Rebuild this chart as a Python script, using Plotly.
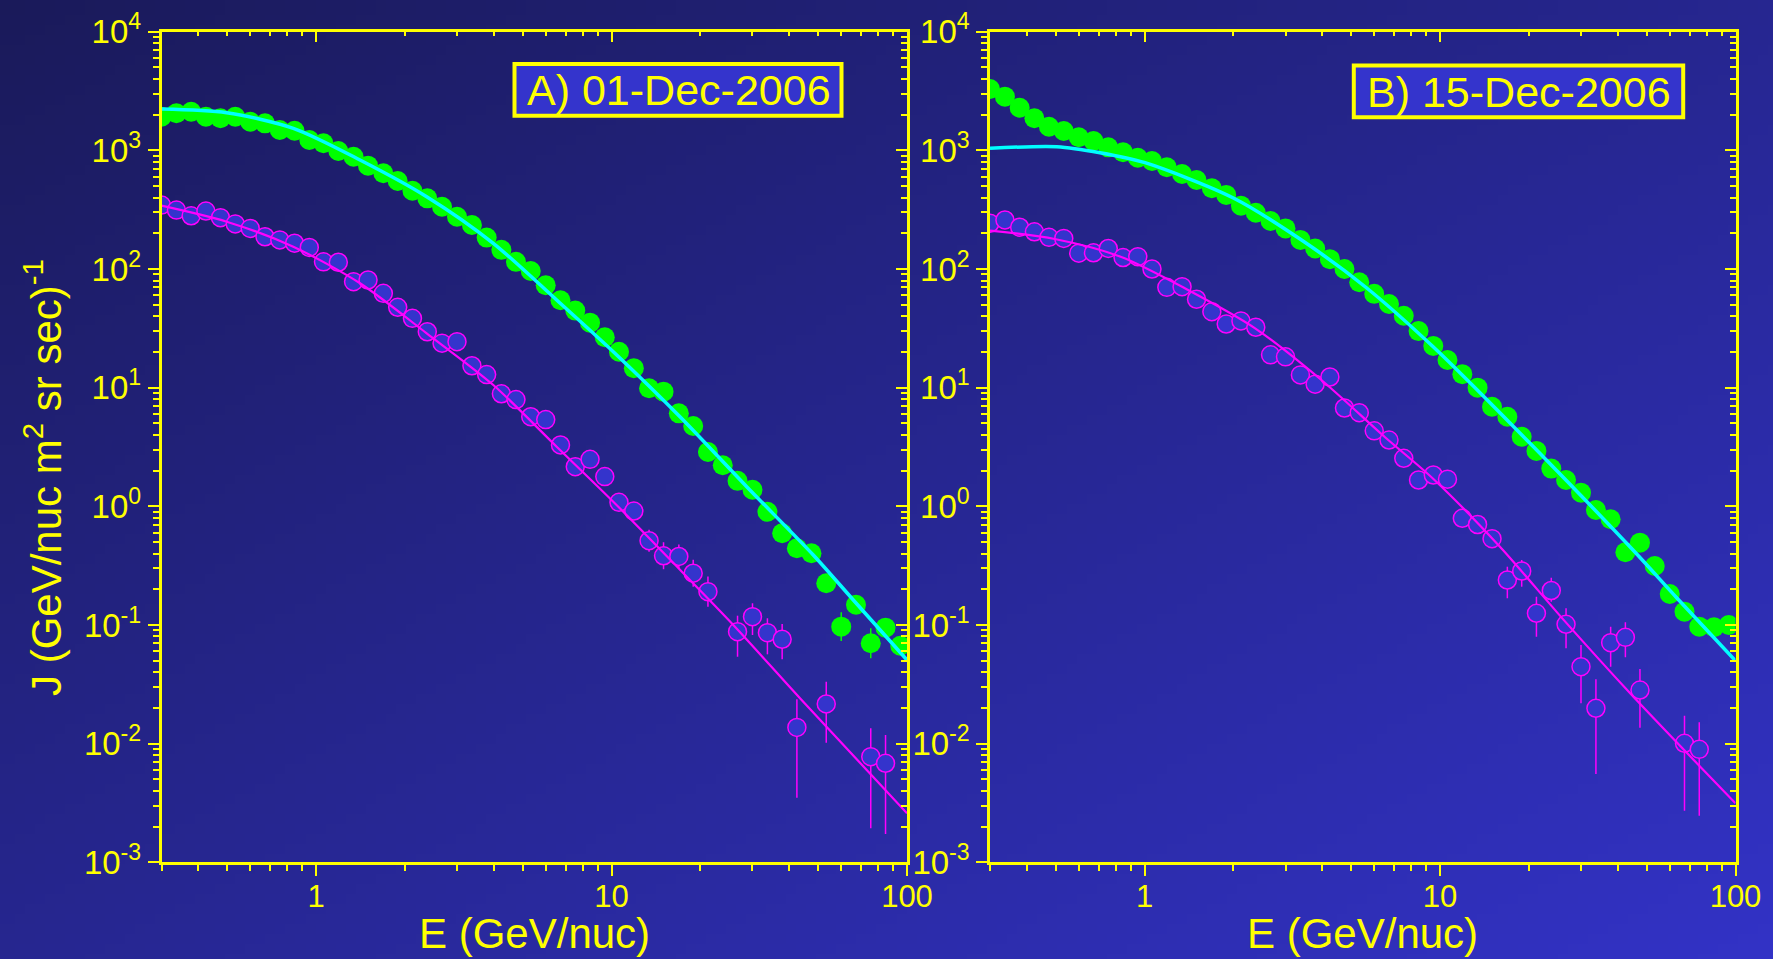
import math, zlib, struct, base64
import plotly.graph_objects as go

# ---------------- data ----------------
E = [0.300, 0.337, 0.378, 0.424, 0.475, 0.533, 0.599, 0.672, 0.754, 0.846,
     0.949, 1.06, 1.19, 1.34, 1.50, 1.69, 1.89, 2.12, 2.38, 2.67,
     3.00, 3.37, 3.78, 4.24, 4.75, 5.33, 5.99, 6.72, 7.54, 8.46,
     9.49, 10.6, 11.9, 13.4, 15.0, 16.9, 18.9, 21.2, 23.8, 26.7,
     30.0, 33.7, 37.8, 42.4, 47.5, 53.3, 59.9, 67.2, 75.4, 84.6, 94.9]

green_A = [1921, 2053, 2117, 1921, 1863, 1921, 1744, 1690, 1484, 1464,
           1223, 1147, 988, 884, 743, 641, 552, 457, 394, 335,
           276, 235, 184, 145, 115, 96.2, 72.9, 54.5, 44.6, 35.3,
           26.6, 20.1, 14.6, 9.88, 9.25, 6.08, 4.75, 2.87, 2.22, 1.64,
           1.38, 0.901, 0.593, 0.443, 0.402, 0.225, 0.0968, 0.148, 0.0701, 0.0949, 0.0669]
green_A_hi = [None] * 46 + [0.1278, None, 0.0938, None, None]
green_A_lo = [None] * 46 + [0.0733, None, 0.0524, None, None]

mag_A = [346, 314, 281, 308, 271, 240, 220, 187, 176, 165,
         152, 115, 114, 78.2, 80.8, 62.4, 47.6, 38.4, 29.6, 23.7,
         24.4, 15.3, 12.9, 8.88, 7.93, 5.69, 5.38, 3.29, 2.16, 2.49,
         1.78, 1.08, 0.913, 0.513, 0.383, 0.378, 0.273, 0.191, None, 0.0878,
         0.1175, 0.0861, 0.0758, 0.0137, None, 0.0216, None, None, 0.00777, 0.00683, None]
mag_A_hi = [None] * 33 + [0.635, 0.498, 0.476, 0.355, 0.256, None, 0.1198,
                          0.1524, 0.1139, 0.1019, 0.02365, None, 0.0333, None, None, 0.01348, 0.01183, None]
mag_A_lo = [None] * 33 + [0.414, 0.295, 0.300, 0.210, 0.1425, None, 0.0540,
                          0.0823, 0.0566, 0.0514, 0.00350, None, 0.01019, None, None, 0.00194, 0.00173, None]

green_B = [3289, 2833, 2288, 1863, 1582, 1456, 1289, 1199, 1061, 963,
           867, 813, 720, 632, 563, 479, 421, 342, 298, 254,
           220, 176, 149, 121, 100, 77.4, 61.8, 50.7, 40.4, 30.0,
           22.5, 17.1, 13.0, 10.0, 6.91, 5.69, 3.86, 2.93, 2.08, 1.667,
           1.303, 0.931, 0.778, 0.410, 0.494, 0.314, 0.1825, 0.1295, 0.0968, 0.0956, 0.100]

mag_B = [243, 259, 225, 206, 185, 181, 136, 137, 149, 125,
         127, 100, 70.1, 71.0, 55.6, 43.7, 34.4, 36.5, 32.3, 18.9,
         18.2, 12.8, 10.7, 12.3, 6.74, 6.15, 4.33, 3.62, 2.54, 1.667,
         1.837, 1.693, 0.793, 0.703, 0.534, 0.2394, 0.2851, 0.1255, 0.1953, 0.1014,
         0.0445, 0.01986, 0.0709, 0.0787, 0.0283, None, None, 0.01007, 0.00896, None, None]
mag_B_hi = [None] * 35 + [0.3099, 0.3529, 0.1732, 0.2503, 0.1382, 0.0678, 0.0349, 0.0968, 0.1054, 0.0426,
                          None, None, 0.01721, 0.01514, None, None]
mag_B_lo = [None] * 35 + [0.1679, 0.2102, 0.0797, 0.1572, 0.0636, 0.0219, 0.00555, 0.0445, 0.0534, 0.01363,
                          None, None, 0.00272, 0.00247, None, None]

fitA_cyan_E = [0.3, 0.4985, 0.838, 1.409, 2.369, 3.981, 6.524, 10.14, 17.05, 28.68, 48.18, 65.8, 100]
fitA_cyan_J = [2232, 2077, 1534, 830, 407, 164.7, 54.8, 20.1, 5.69, 1.464, 0.389, 0.1624, 0.0507]
fitA_mag_E = [0.3, 0.4985, 0.838, 1.409, 2.369, 3.981, 6.524, 10.14, 17.05, 25.84, 43.44, 73.06, 100]
fitA_mag_J = [341.7, 250.5, 154.2, 75.8, 28.7, 10.53, 3.18, 1.094, 0.292, 0.100, 0.0241, 0.0060, 0.00259]

fitB_cyan_E = [0.3, 0.5044, 0.7069, 1.004, 1.998, 3.36, 5.65, 9.50, 15.98, 26.87, 45.16, 63.33, 100]
fitB_cyan_J = [1041, 1074, 956, 787, 397, 179, 69.2, 22.0, 6.12, 1.635, 0.424, 0.169, 0.0500]
fitB_mag_E = [0.3, 0.4966, 0.8346, 1.404, 2.361, 3.968, 6.503, 9.50, 15.98, 26.16, 44.0, 74.0, 100]
fitB_mag_J = [211, 179, 126.3, 66.6, 31.8, 11.6, 3.84, 1.70, 0.454, 0.111, 0.0266, 0.00683, 0.00314]

x_tickvals = [1, 10, 100]
x_ticktext = ["1", "10", "100"]
y_tickvals = [1e-3, 1e-2, 1e-1, 1, 10, 100, 1000, 10000]
y_ticktext = ["10<sup>-3</sup>", "10<sup>-2</sup>", "10<sup>-1</sup>", "10<sup>0</sup>",
              "10<sup>1</sup>", "10<sup>2</sup>", "10<sup>3</sup>", "10<sup>4</sup>"]
panel_labels = ["A) 01-Dec-2006", "B) 15-Dec-2006"]
x_title = "E (GeV/nuc)"
y_title = "J (GeV/nuc m<sup>2</sup> sr sec)<sup>-1</sup>"

# ---------------- styling ----------------
W, H = 1773, 959
YEL = "#ffff00"
FONT = "Arial, 'Liberation Sans', sans-serif"
GREEN = "#00ff00"
CYAN = "#00ffff"
MAG = "#ff00ff"
MFILL = "#3434cc"

x_minor = [m * 10 ** k for k in range(-1, 2) for m in range(2, 10) if 0.3 <= m * 10 ** k <= 100]
y_minor = [m * 10 ** k for k in range(-3, 4) for m in range(2, 10)]


def png_data_uri(w, h, c0, c1):
    rows = []
    for j in range(h):
        row = bytearray([0])
        for i in range(w):
            t = (i / (w - 1) + j / (h - 1)) / 2
            row += bytes(int(round(a + (b - a) * t)) for a, b in zip(c0, c1))
        rows.append(bytes(row))
    raw = b"".join(rows)

    def chunk(tag, data):
        return struct.pack(">I", len(data)) + tag + data + struct.pack(">I", zlib.crc32(tag + data) & 0xffffffff)

    png = (b"\x89PNG\r\n\x1a\n" + chunk(b"IHDR", struct.pack(">IIBBBBB", w, h, 8, 2, 0, 0, 0))
           + chunk(b"IDAT", zlib.compress(raw)) + chunk(b"IEND", b""))
    return "data:image/png;base64," + base64.b64encode(png).decode()


def errs(vals, hi, lo):
    plus, minus = [], []
    for v, h, l in zip(vals, hi, lo):
        if v is None or h is None:
            plus.append(0)
            minus.append(0)
        else:
            plus.append(h - v)
            minus.append(v - l)
    return plus, minus


fig = go.Figure()


def add_panel(xa, ya, green, mag, ghi, glo, mhi, mlo, cE, cJ, mE, mJ):
    gp, gm = errs(green, ghi, glo)
    mp, mm = errs(mag, mhi, mlo)
    fig.add_trace(go.Scatter(x=E, y=green, mode="markers", xaxis=xa, yaxis=ya,
                             marker=dict(size=20, color=GREEN, line=dict(width=0)),
                             error_y=dict(type="data", symmetric=False, array=gp, arrayminus=gm,
                                          color=GREEN, thickness=1.5, width=0),
                             showlegend=False, hoverinfo="skip"))
    fig.add_trace(go.Scatter(x=E, y=mag, mode="markers", xaxis=xa, yaxis=ya,
                             marker=dict(size=18, color=MFILL, line=dict(width=1.5, color=MAG)),
                             error_y=dict(type="data", symmetric=False, array=mp, arrayminus=mm,
                                          color=MAG, thickness=1.5, width=0),
                             showlegend=False, hoverinfo="skip"))
    fig.add_trace(go.Scatter(x=cE, y=cJ, mode="lines", xaxis=xa, yaxis=ya,
                             line=dict(color=CYAN, width=3.5, shape="spline", smoothing=0.8),
                             showlegend=False, hoverinfo="skip"))
    fig.add_trace(go.Scatter(x=mE, y=mJ, mode="lines", xaxis=xa, yaxis=ya,
                             line=dict(color=MAG, width=2.2, shape="spline", smoothing=0.8),
                             showlegend=False, hoverinfo="skip"))


add_panel("x", "y", green_A, mag_A, green_A_hi, green_A_lo, mag_A_hi, mag_A_lo,
          fitA_cyan_E, fitA_cyan_J, fitA_mag_E, fitA_mag_J)
add_panel("x2", "y2", green_B, mag_B, [None] * 51, [None] * 51, mag_B_hi, mag_B_lo,
          fitB_cyan_E, fitB_cyan_J, fitB_mag_E, fitB_mag_J)
# invisible traces for the mirrored (top/right) axes
for xa, ya in (("x3", "y3"), ("x4", "y4")):
    fig.add_trace(go.Scatter(x=[1], y=[1], xaxis=xa, yaxis=ya, mode="markers",
                             marker=dict(opacity=0), showlegend=False, hoverinfo="skip"))

XR = [math.log10(0.3), 2]
YR = [-3, 4]
ydom = [(H - 862.3) / H, (H - 31.7) / H]
xdomA = [161.5 / W, 907.0 / W]
xdomB = [990.0 / W, 1735.5 / W]

common = dict(type="log", showgrid=False, zeroline=False, showline=True, linecolor=YEL, linewidth=2.5,
              tickcolor=YEL, tickwidth=2, automargin=False)


def xaxis_main(dom, anchor):
    return dict(common, domain=dom, anchor=anchor, range=XR, tickmode="array", tickvals=x_tickvals,
                ticktext=x_ticktext, ticks="outside", ticklen=11, ticklabelstandoff=-6,
                tickfont=dict(family=FONT, size=31, color=YEL),
                minor=dict(tickmode="array", tickvals=x_minor, ticks="outside", ticklen=6,
                           tickcolor=YEL, tickwidth=2, showgrid=False))


def yaxis_main(anchor):
    return dict(common, domain=ydom, anchor=anchor, range=YR, tickmode="array", tickvals=y_tickvals,
                ticktext=y_ticktext, ticks="outside", ticklen=11,
                tickfont=dict(family=FONT, size=33, color=YEL),
                minor=dict(tickmode="array", tickvals=y_minor, ticks="outside", ticklen=6,
                           tickcolor=YEL, tickwidth=2, showgrid=False))


def xaxis_top(over, anchor):
    return dict(common, overlaying=over, side="top", anchor=anchor, range=XR, tickmode="array",
                tickvals=x_tickvals, ticks="inside", ticklen=11, showticklabels=False,
                minor=dict(tickmode="array", tickvals=x_minor, ticks="inside", ticklen=5,
                           tickcolor=YEL, tickwidth=2, showgrid=False))


def yaxis_right(over, anchor):
    return dict(common, overlaying=over, side="right", anchor=anchor, range=YR, tickmode="array",
                tickvals=y_tickvals, ticks="inside", ticklen=11, showticklabels=False,
                minor=dict(tickmode="array", tickvals=y_minor, ticks="inside", ticklen=6,
                           tickcolor=YEL, tickwidth=2, showgrid=False))


bg = png_data_uri(177, 96, (26, 26, 90), (50, 50, 198))

shapes = []
annotations = []
for (x0, x1, y0, y1), label, cx, cy in (((514.5, 841.5, 64.0, 115.8), panel_labels[0], 679, 90),
                                        ((1353.8, 1683.2, 65.5, 117.2), panel_labels[1], 1518.5, 91.5)):
    shapes.append(dict(type="rect", xref="paper", yref="paper", x0=x0 / W, x1=x1 / W,
                       y0=1 - y1 / H, y1=1 - y0 / H, line=dict(color=YEL, width=4), fillcolor="#3434cc",
                       layer="above"))
    annotations.append(dict(text=label, xref="paper", yref="paper", x=cx / W, y=1 - cy / H,
                            xanchor="center", yanchor="middle", showarrow=False,
                            font=dict(family=FONT, size=43, color=YEL)))

for cx in (534.0, 1362.5):
    annotations.append(dict(text=x_title, xref="paper", yref="paper", x=cx / W, y=1 - 933 / H,
                            xanchor="center", yanchor="middle", showarrow=False,
                            font=dict(family=FONT, size=42, color=YEL)))
annotations.append(dict(text=y_title, xref="paper", yref="paper", x=43 / W, y=1 - 478 / H,
                        xanchor="center", yanchor="middle", showarrow=False, textangle=-90,
                        font=dict(family=FONT, size=42, color=YEL)))

fig.update_layout(
    width=W, height=H, autosize=False,
    margin=dict(l=0, r=0, t=0, b=0, pad=0, autoexpand=False),
    paper_bgcolor="#26268a", plot_bgcolor="rgba(0,0,0,0)",
    xaxis=xaxis_main(xdomA, "y"), yaxis=yaxis_main("x"),
    xaxis2=xaxis_main(xdomB, "y2"), yaxis2=yaxis_main("x2"),
    xaxis3=xaxis_top("x", "y"), yaxis3=yaxis_right("y", "x"),
    xaxis4=xaxis_top("x2", "y2"), yaxis4=yaxis_right("y2", "x2"),
    images=[dict(source=bg, xref="paper", yref="paper", x=0, y=1, sizex=1, sizey=1,
                 sizing="stretch", xanchor="left", yanchor="top", layer="below")],
    shapes=shapes, annotations=annotations,
)

fig.write_html("out.html", config={"displayModeBar": False})
